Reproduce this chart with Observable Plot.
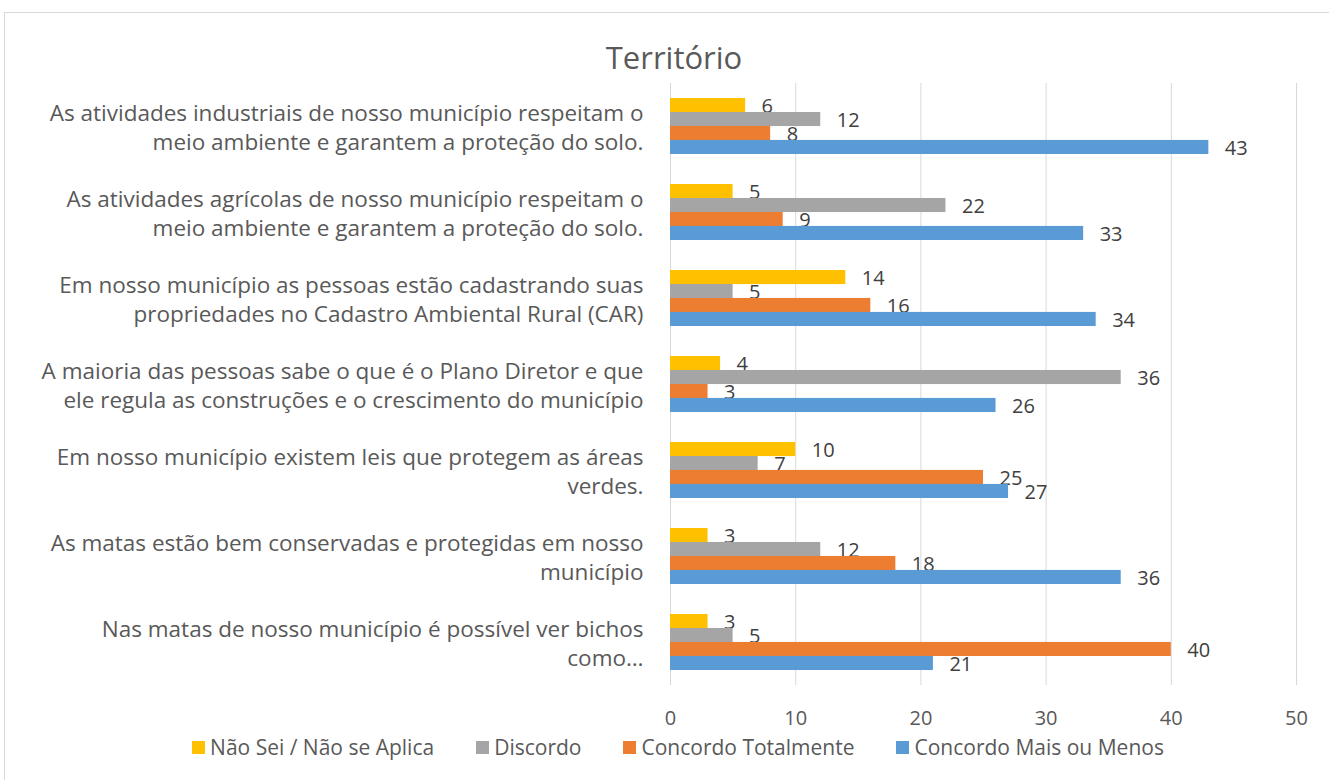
<!DOCTYPE html>
<html><head><meta charset="utf-8">
<script src="https://cdn.jsdelivr.net/npm/d3@7"></script>
<script src="https://cdn.jsdelivr.net/npm/@observablehq/plot@0.6"></script>
<style>
body{margin:0;background:#fff;font-family:"Open Sans", sans-serif;}
#frame{position:absolute;left:4px;top:12px;width:1340px;height:790px;border:1px solid #D9D9D9;box-sizing:border-box;}
#title{position:absolute;left:0;width:1348px;top:36px;text-align:center;font-size:31px;color:#595959;}
#chart{position:absolute;left:0;top:0;}
#legend{position:absolute;left:0;top:733px;width:1356px;display:flex;justify-content:center;gap:0;font-size:21px;color:#595959;}
.item{display:flex;align-items:center;margin:0 21px;}
.sw{width:13px;height:13px;margin-right:5px;}
</style></head>
<body>
<div id="frame"></div>
<div id="title">Território</div>
<div id="chart"></div>
<div id="legend"></div>
<script>
const categories = [
  "As atividades industriais de nosso município respeitam o\nmeio ambiente e garantem a proteção do solo.",
  "As atividades agrícolas de nosso município respeitam o\nmeio ambiente e garantem a proteção do solo.",
  "Em nosso município as pessoas estão cadastrando suas\npropriedades no Cadastro Ambiental Rural (CAR)",
  "A maioria das pessoas sabe o que é o Plano Diretor e que\nele regula as construções e o crescimento do município",
  "Em nosso município existem leis que protegem as áreas\nverdes.",
  "As matas estão bem conservadas e protegidas em nosso\nmunicípio",
  "Nas matas de nosso município é possível ver bichos\ncomo…"
];
const series = ["Não Sei / Não se Aplica", "Discordo", "Concordo Totalmente", "Concordo Mais ou Menos"];
const colors = ["#FFC000", "#A5A5A5", "#ED7D31", "#5B9BD5"];
const naoSei = [6, 5, 14, 4, 10, 3, 3];
const discordo = [12, 22, 5, 36, 7, 12, 5];
const concordoTotalmente = [8, 9, 16, 3, 25, 18, 40];
const concordoMaisOuMenos = [43, 33, 34, 26, 27, 36, 21];
const xTicks = [0, 10, 20, 30, 40, 50];

const values = [naoSei, discordo, concordoTotalmente, concordoMaisOuMenos];
const W = 1329, H = 780, mT = 83, mB = 95, mL = 670, mR = 33;
const step = (H - mT - mB) / categories.length;
const bw = step * 0.65;
const q = bw / 4;

const marks = [
  Plot.gridX({ticks: xTicks, stroke: "#D9D9D9", strokeOpacity: 1}),
  Plot.ruleX([0], {stroke: "#D9D9D9"})
];
series.forEach((s, i) => {
  const data = categories.map((c, j) => ({cat: c, value: values[i][j], series: s}));
  marks.push(Plot.barX(data, {x: "value", y: "cat", fill: colors[i], insetTop: i * q, insetBottom: (3 - i) * q}));
  marks.push(Plot.text(data, {x: "value", y: "cat", text: d => String(d.value), dx: 16, dy: -bw / 2 + (i + 0.5) * q + 1, textAnchor: "start", fill: "#404040", fontSize: 20}));
});
marks.push(Plot.axisY({tickSize: 0, tickPadding: 27, fontSize: 22.5, lineHeight: 1.25, label: null}));
marks.push(Plot.axisX({ticks: xTicks, tickSize: 0, tickPadding: 25, fontSize: 20, label: null}));

const chart = Plot.plot({
  width: W, height: H,
  marginTop: mT, marginBottom: mB, marginLeft: mL, marginRight: mR,
  x: {domain: [0, 50]},
  y: {domain: categories, paddingInner: 0.35, paddingOuter: 0.175},
  style: {fontFamily: "'Open Sans', sans-serif", color: "#595959", background: "transparent", overflow: "visible"},
  marks
});
document.getElementById("chart").appendChild(chart);

const legend = document.getElementById("legend");
series.forEach((s, i) => {
  const it = document.createElement("div"); it.className = "item";
  const sw = document.createElement("div"); sw.className = "sw"; sw.style.background = colors[i];
  const t = document.createElement("span"); t.textContent = s;
  it.appendChild(sw); it.appendChild(t); legend.appendChild(it);
});
</script>
</body></html>
